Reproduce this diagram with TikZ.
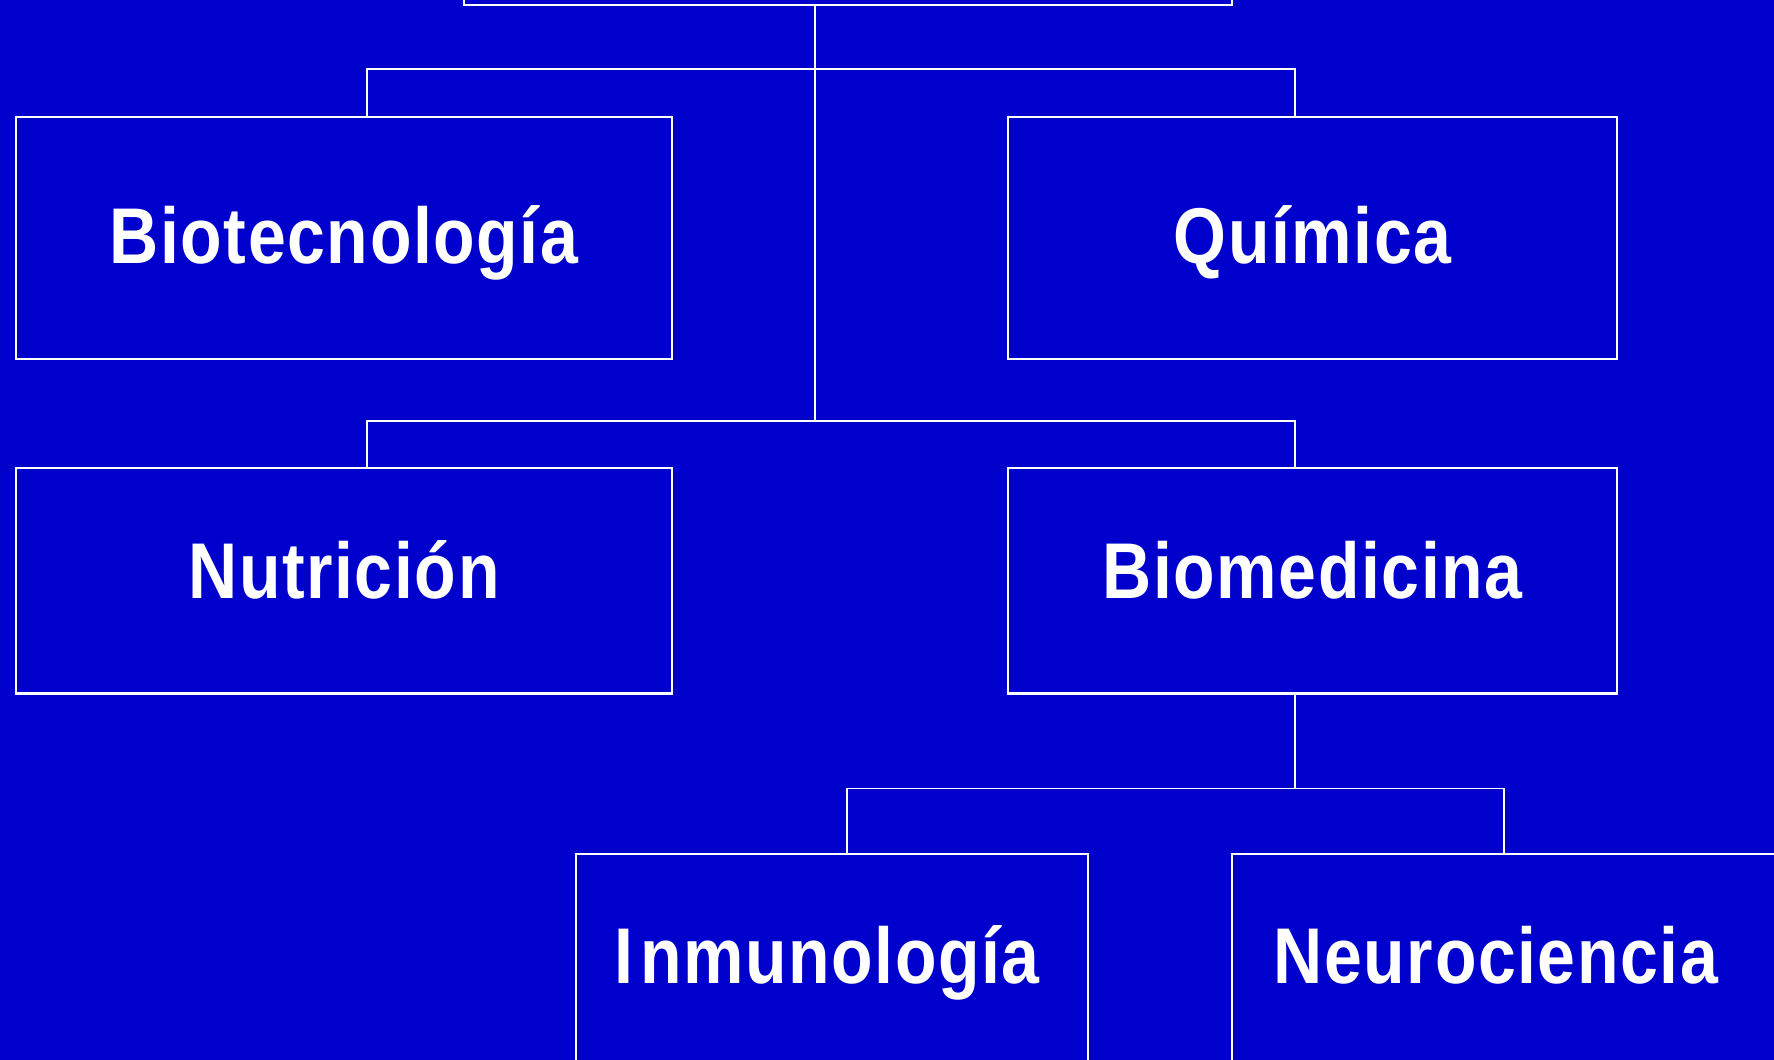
\documentclass[tikz,border=0pt]{standalone}
\usepackage{fontspec}
\usepackage{tikz}
\newfontfamily\boxfont[FakeStretch=0.86,LetterSpace=2]{Liberation Sans}
\definecolor{bgblue}{RGB}{0,0,204}

\begin{document}
\begin{tikzpicture}[x = .02cm, y = -.02cm,
  box/.style = {draw = white, line width = 1.2pt, rectangle, inner sep = 0pt,
    text = white, font = \boxfont\bfseries\fontsize{45}{50}\selectfont,
    text height = 32pt, text depth = .1cm},
  tree/.style = {draw = white, line width = .9pt}]
\clip (0,0) rectangle (1774,1060);
\fill[bgblue] (0,0) rectangle (1774,1060);
\node[box, anchor = south, minimum width = 15.36cm, minimum height = 2cm] (root) at (848,5.7) {};
\node[box, minimum width = 13.12cm, minimum height = 4.84cm] (bio) at (344,237.6) {Biotecnología};
\node[box, minimum width = 12.18cm, minimum height = 4.84cm] (quim) at (1312.5,237.6) {Química};
\node[box, minimum width = 13.12cm, minimum height = 4.51cm, text depth = .43cm] (nutri) at (344,580.8) {Nutrición};
\node[box, minimum width = 12.18cm, minimum height = 4.51cm, text depth = .43cm] (biomed) at (1312.5,580.8) {Biomedicina};
\node[box, anchor = north, minimum width = 10.24cm, minimum height = 6cm, text depth = 1.96cm] (inmu) at (832,853) {I\kern4pt nmunología\kern.2cm};
\node[box, anchor = north, minimum width = 11.36cm, minimum height = 6cm, text depth = 1.96cm] (neuro) at (1516,853) {Neurociencia\kern.8cm};
\coordinate (trunk) at (815,421);
\coordinate (b1l) at (367,69);
\coordinate (b1r) at (1295,69);
\coordinate (b2l) at (367,421);
\coordinate (b2r) at (1295,421);
\coordinate (b3) at (1295,788.6);
\coordinate (b3l) at (847,788.6);
\coordinate (b3r) at (1504,788.6);
\draw[tree] (root.south -| trunk) -- (trunk);
\draw[tree] (bio.north -| b1l) -- (b1l) -- (b1r) -- (quim.north -| b1r);
\draw[tree] (nutri.north -| b2l) -- (b2l) -- (b2r) -- (biomed.north -| b2r);
\draw[tree] (biomed.south -| b3) -- (b3);
\draw[tree] (inmu.north -| b3l) -- (b3l) -- (b3r) -- (neuro.north -| b3r);
\end{tikzpicture}
\end{document}
